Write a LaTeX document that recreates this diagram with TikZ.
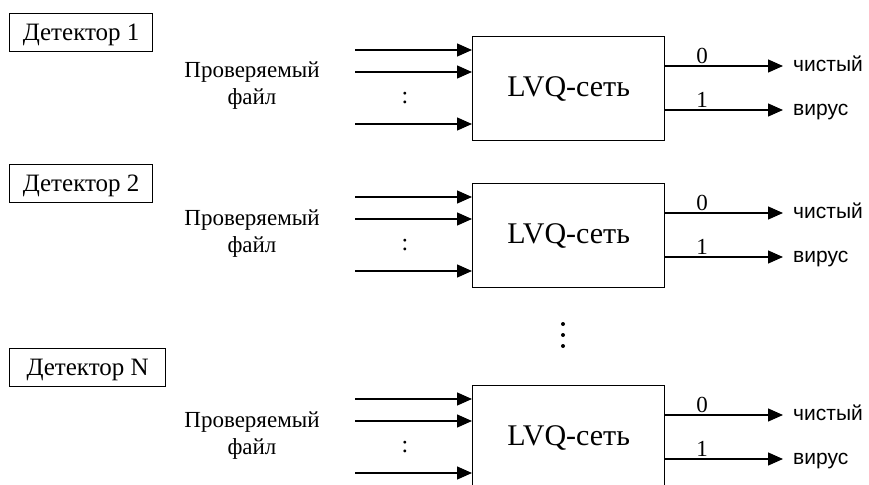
\documentclass[tikz,border=0pt]{standalone}
\usepackage{fontspec}
\setmainfont{Liberation Serif}
\newfontfamily\labsans{Liberation Sans}
\usetikzlibrary{arrows.meta}
\begin{document}
\begin{tikzpicture}[x=1pt,y=-1pt,
  every node/.style={inner sep=0pt},
  wire/.style={line width=1.3pt},
  arr/.style={wire, -{Triangle[length=15pt,width=13pt]}},
  detbox/.style={draw, line width=1.2pt, anchor=north west, minimum height=38pt,
    inner xsep=13pt, text height=16pt, text depth=0pt, font=\fontsize{25}{29}\selectfont},
  lvqbox/.style={draw, line width=1.2pt, minimum width=192pt, minimum height=104pt,
    anchor=north west, font=\fontsize{30}{36}\selectfont},
  filelab/.style={anchor=base, font=\fontsize{23}{27}\selectfont},
  outlab/.style={anchor=west, inner xsep=10pt, text height=11pt, text depth=0pt,
    font=\labsans\fontsize{21}{25}\selectfont},
  bitlab/.style={anchor=south, inner ysep=2pt, font=\fontsize{23}{27}\selectfont},
  colonlab/.style={anchor=base, font=\fontsize{24}{28}\selectfont},
  vdot/.style={fill=black},
]
\useasboundingbox (0,0) rectangle (869,484);

\foreach \i/\T/\D/\W/\lab in {1/36/13/143/1, 2/183/164/143/2, 3/385/348/156/N}{
  \node[detbox, minimum width=\W pt] (det\i) at (9,\D) {Детектор \lab};
  \node[lvqbox] (lvq\i) at (472,\T) {\raisebox{2pt}{LVQ-сеть}};
  \node[filelab] (filea\i) at (252,\T+42) {Проверяемый};
  \node[filelab] (fileb\i) at (252,\T+69) {файл};
  \node[colonlab] (colon\i) at (405,\T+67) {:};
  \coordinate (ina\i) at (355,\T+14);
  \coordinate (inb\i) at (355,\T+36);
  \coordinate (inc\i) at (355,\T+88);
  \draw[arr] (ina\i) -- (ina\i -| lvq\i.west);
  \draw[arr] (inb\i) -- (inb\i -| lvq\i.west);
  \draw[arr] (inc\i) -- (inc\i -| lvq\i.west);
  \node[outlab] (clean\i) at (783,\T+30) {чистый};
  \node[outlab] (virus\i) at (783,\T+74) {вирус};
  \draw[arr] (lvq\i.east |- clean\i.west) -- (clean\i.west);
  \draw[arr] (lvq\i.east |- virus\i.west) -- (virus\i.west);
  \node[bitlab] (zero\i) at (702,\T+30) {0};
  \node[bitlab] (one\i) at (702,\T+74) {1};
}

\fill[vdot] (563,324) circle (2);
\fill[vdot] (563,335) circle (2);
\fill[vdot] (563,346) circle (2);
\end{tikzpicture}
\end{document}
